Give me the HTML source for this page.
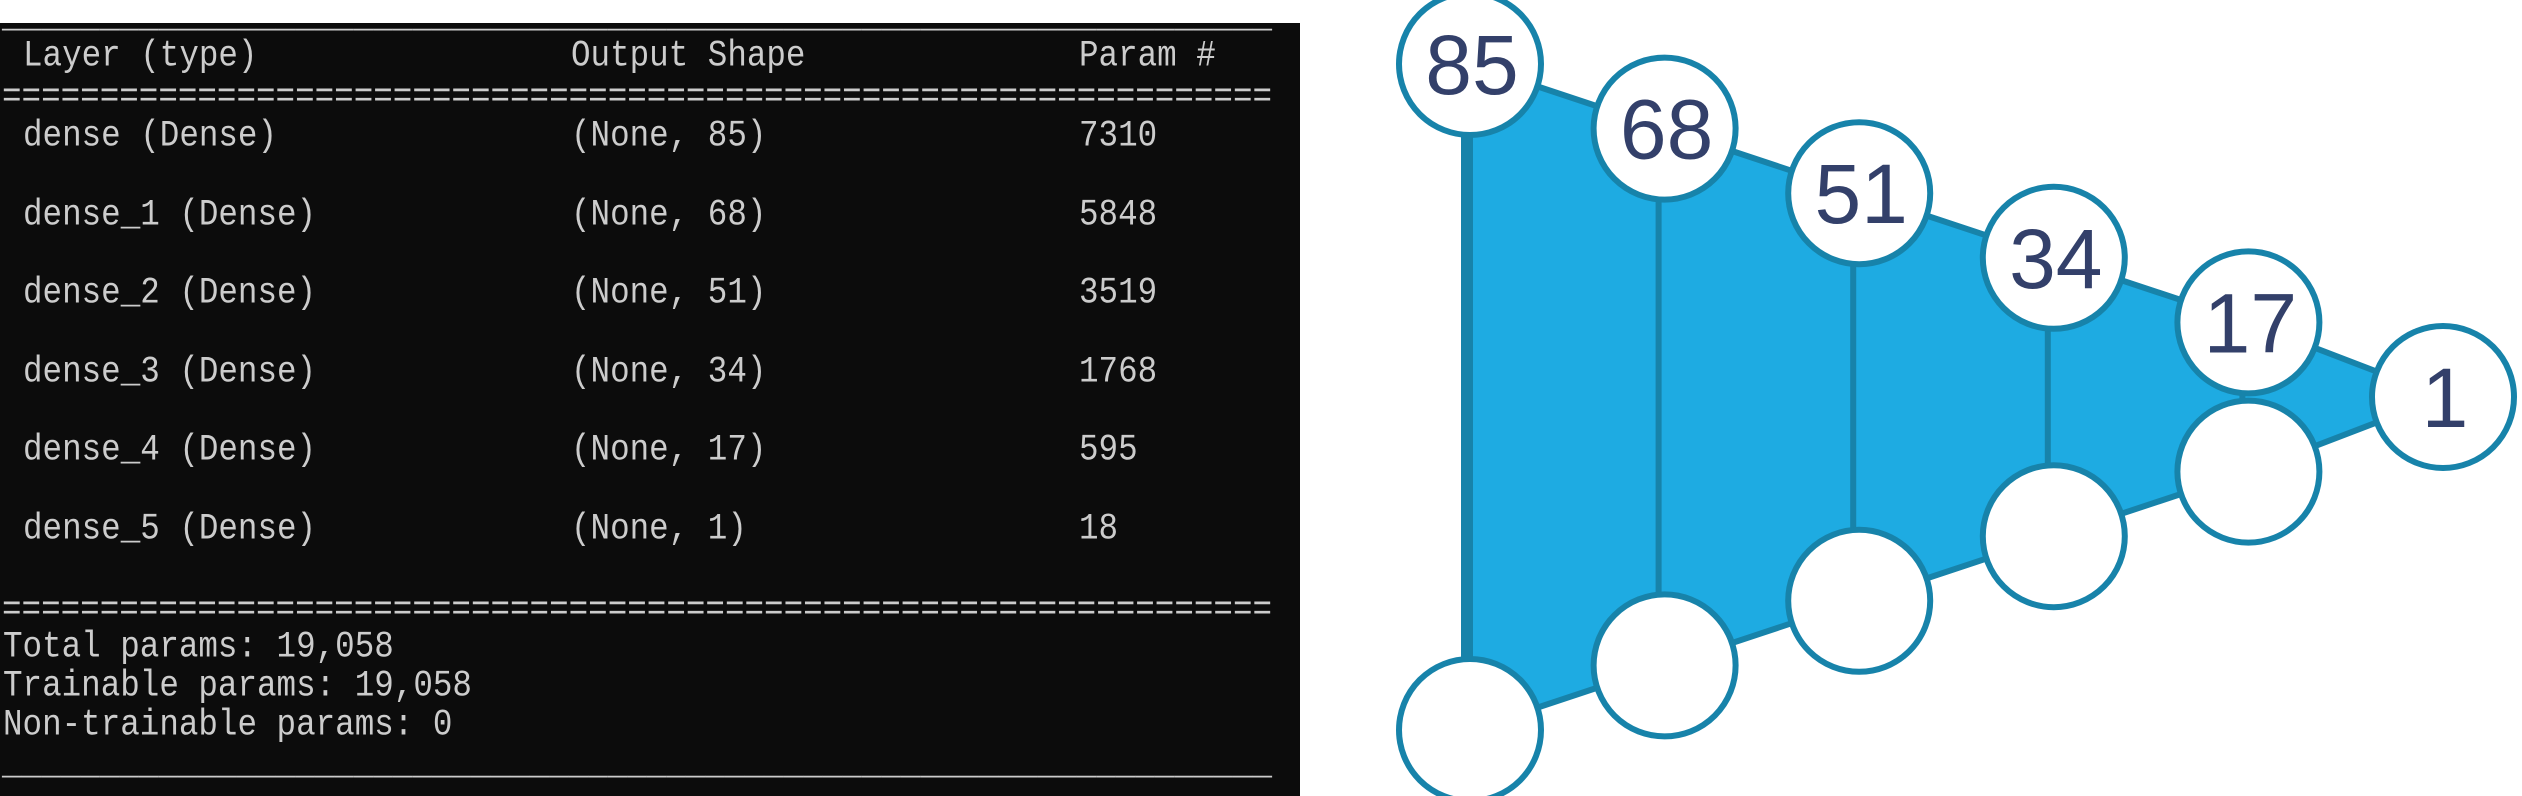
<!DOCTYPE html>
<html><head><meta charset="utf-8"><style>
html,body{margin:0;padding:0;background:#fff;}
#root{position:relative;width:2522px;height:796px;overflow:hidden;background:#fff;}
#term{position:absolute;left:0;top:23px;width:1300px;height:773px;background:#0c0c0c;}
.t{position:absolute;font-family:"Liberation Mono",monospace;font-size:37px;color:#cccccc;white-space:pre;line-height:1;transform-origin:0 50%;transform:translateY(-50%) scaleX(0.88);}
svg{position:absolute;left:0;top:0;}
</style></head><body>
<div id="root">
<div id="term"></div>
<svg id="net" width="2522" height="796"></svg>
</div>
<script>
// terminal data
const layerNames=["dense (Dense)","dense_1 (Dense)","dense_2 (Dense)","dense_3 (Dense)","dense_4 (Dense)","dense_5 (Dense)"];
const outputShapes=["(None, 85)","(None, 68)","(None, 51)","(None, 34)","(None, 17)","(None, 1)"];
const paramCounts=["7310","5848","3519","1768","595","18"];
const footerLines=["Total params: 19,058","Trainable params: 19,058","Non-trainable params: 0"];
// diagram data
const units=[85,68,51,34,17,1];

const root=document.getElementById('root');
function txt(s,x,y,name){
  const d=document.createElement('div');
  d.className='t';d.textContent=s;d.style.left=x+'px';d.style.top=y+'px';
  
  
  root.appendChild(d);
}
txt("_".repeat(65),2,18,'top-rule');
txt("Layer (type)",23,57,'header-layer');
txt("Output Shape",571,57,'header-output-shape');
txt("Param #",1079,57,'header-param');
txt("=".repeat(65),2,98,'header-rule');
layerNames.forEach((n,i)=>{
  const y=137+i*78.6;
  txt(n,23,y,'row-layer-name');
  txt(outputShapes[i],571,y,'row-output-shape');
  txt(paramCounts[i],1079,y,'row-param-count');
});
txt("=".repeat(65),2,611,'footer-rule');
footerLines.forEach((s,i)=>txt(s,3,648+i*39,'footer-line'));
txt("_".repeat(65),2,765,'bottom-rule');

const NS="http://www.w3.org/2000/svg";
const svg=document.getElementById('net');
const x0=1470,dx=194.6,cy=397,r=71;
function xPos(i){return x0+i*dx;}
function half(n){return n<=1?0:3.8*n+10;}
function el(tag,attrs){const e=document.createElementNS(NS,tag);for(const k in attrs)e.setAttribute(k,attrs[k]);svg.appendChild(e);return e;}
const tops=units.map((n,i)=>[xPos(i),cy-half(n)]);
const bots=units.map((n,i)=>[xPos(i),cy+half(n)]);
const poly=tops.concat(bots.slice().reverse()).map(p=>p.join(',')).join(' ');
const pg=el('polygon',{points:poly,fill:'#1eabe2',stroke:'#1783aa','stroke-width':6,'stroke-linejoin':'round'});


units.forEach((n,i)=>{
  if(half(n)>0){
    const l=el('line',{x1:xPos(i)-6,x2:xPos(i)-6,y1:tops[i][1],y2:bots[i][1],stroke:'#1783aa','stroke-width':6});
    
    
  }
});
units.forEach((n,i)=>{
  const c=el('circle',{cx:tops[i][0],cy:tops[i][1],r:r,fill:'#fff',stroke:'#1783aa','stroke-width':6});
  
  
  if(half(n)>0){
    const b=el('circle',{cx:bots[i][0],cy:bots[i][1],r:r,fill:'#fff',stroke:'#1783aa','stroke-width':6});
    
    
  }
  const t=el('text',{x:tops[i][0]+2,y:tops[i][1]+30,'text-anchor':'middle','font-family':'Liberation Sans, sans-serif','font-size':84,fill:'#33406a'});
  t.textContent=n;
  
  
});
</script>
</body></html>
